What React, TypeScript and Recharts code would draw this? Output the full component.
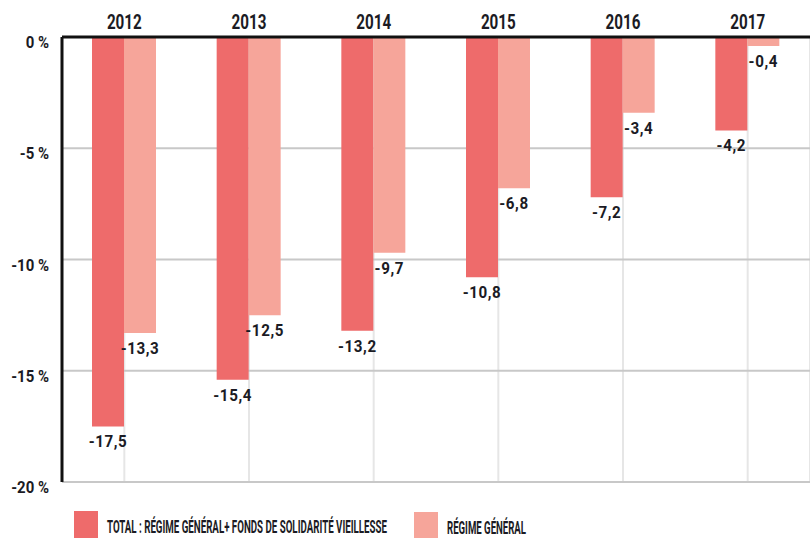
import React from 'react';
import { BarChart, Bar, XAxis, YAxis, CartesianGrid, LabelList, Legend } from 'recharts';

const years = ['2012', '2013', '2014', '2015', '2016', '2017'];
const totalValues = [-17.5, -15.4, -13.2, -10.8, -7.2, -4.2];
const regimeValues = [-13.3, -12.5, -9.7, -6.8, -3.4, -0.4];
const yTicks = [0, -5, -10, -15, -20];
const seriesNames = ['TOTAL : RÉGIME GÉNÉRAL+ FONDS DE SOLIDARITÉ VIEILLESSE', 'RÉGIME GÉNÉRAL'];

const data = years.map((y, i) => ({ year: y, total: totalValues[i], regime: regimeValues[i] }));

const DARK = '#EE6B6B';
const LIGHT = '#F6A59A';
const TEXT = '#1b1b24';
const FONT = 'Roboto, "Noto Sans", sans-serif';

const fmt = (v: number) => String(v).replace('.', ',');

const ValueLabel = (props: any) => {
  const { x, y, width, height, value } = props;
  const bottom = Math.max(y, y + height);
  const cx = x + width / 2;
  const by = bottom + 21;
  return (
    <g transform={`translate(${cx},${by}) scale(0.95,1)`}>
      <text x={0} y={0} textAnchor="middle" fontFamily={FONT} fontWeight={700} fontSize={16} fill={TEXT} letterSpacing={0.6}>
        {fmt(value)}
      </text>
    </g>
  );
};

const YearTick = (props: any) => {
  const { x, y, payload } = props;
  return (
    <g transform={`translate(${x},${y}) scale(0.78,1)`}>
      <text x={0} y={0} textAnchor="middle" fontFamily={FONT} fontWeight={700} fontSize={19.5} fill={TEXT}>
        {payload.value}
      </text>
    </g>
  );
};

const PctTick = (props: any) => {
  const { x, y, payload } = props;
  return (
    <g transform={`translate(${x},${y + 11}) scale(0.88,1)`}>
      <text x={0} y={0} textAnchor="end" fontFamily={FONT} fontWeight={700} fontSize={17} fill={TEXT}>
        {`${payload.value} %`}
      </text>
    </g>
  );
};

const LegendContent = () => (
  <svg width={810} height={56} style={{ display: 'block' }}>
    <rect x={74} y={29} width={24} height={30} fill={DARK} />
    <text x={107} y={51} textLength={280} lengthAdjust="spacingAndGlyphs" fontFamily={FONT} fontWeight={700} fontSize={18} fill={TEXT}>
      {seriesNames[0]}
    </text>
    <rect x={414} y={30} width={24} height={30} fill={LIGHT} />
    <text x={447} y={52} textLength={79} lengthAdjust="spacingAndGlyphs" fontFamily={FONT} fontWeight={700} fontSize={18} fill={TEXT}>
      {seriesNames[1]}
    </text>
  </svg>
);

export default function App() {
  return (
    <div style={{ position: 'absolute', left: 0, top: 0, width: 810, height: 538, background: '#fff', overflow: 'hidden' }}>
      <BarChart
        width={810}
        height={538}
        data={data}
        margin={{ top: 0, right: 0, bottom: 0, left: 0 }}
        barGap={0}
        barCategoryGap={0}
      >
        <CartesianGrid horizontal={false} vertical={true} stroke="#e6e6e6" strokeWidth={2} />
        <CartesianGrid horizontal={true} vertical={false} stroke="#c8c8c8" strokeWidth={2} />
        <XAxis
          dataKey="year"
          orientation="top"
          height={37}
          axisLine={{ stroke: '#111', strokeWidth: 3 }}
          tickLine={false}
          tickSize={0}
          tickMargin={8}
          tick={<YearTick />}
          interval={0}
        />
        <YAxis
          type="number"
          domain={[-20, 0]}
          ticks={yTicks}
          width={62}
          axisLine={{ stroke: '#111', strokeWidth: 3 }}
          tickLine={false}
          tickSize={0}
          tickMargin={13}
          tick={<PctTick />}
          interval={0}
        />
        <Legend
          verticalAlign="bottom"
          height={56}
          content={() => <LegendContent />}
          wrapperStyle={{ left: 0, bottom: 0, width: 810, height: 56 }}
        />
        <Bar dataKey="total" name={seriesNames[0]} fill={DARK} barSize={32} isAnimationActive={false}>
          <LabelList dataKey="total" content={ValueLabel} />
        </Bar>
        <Bar dataKey="regime" name={seriesNames[1]} fill={LIGHT} barSize={32} isAnimationActive={false}>
          <LabelList dataKey="regime" content={ValueLabel} />
        </Bar>
      </BarChart>
    </div>
  );
}
